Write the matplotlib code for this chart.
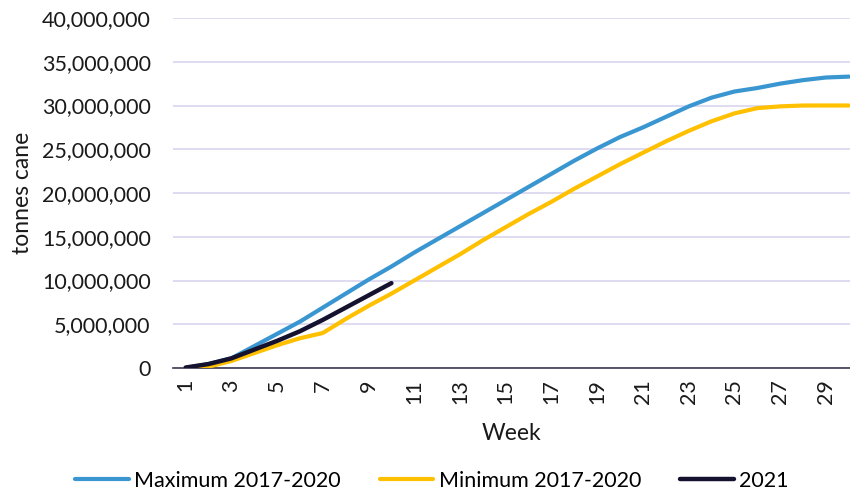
import matplotlib
matplotlib.use("Agg")
import matplotlib.pyplot as plt
from matplotlib.ticker import FuncFormatter

weeks = list(range(1, 31))
max_2017_2020 = [0.0, 0.45, 1.1, 2.5, 3.9, 5.3, 6.9, 8.5, 10.1, 11.6,
                 13.2, 14.7, 16.2, 17.7, 19.2, 20.7, 22.2, 23.7, 25.1, 26.4,
                 27.5, 28.7, 29.9, 30.9, 31.6, 32.0, 32.5, 32.9, 33.2, 33.3]
min_2017_2020 = [0.0, 0.15, 0.8, 1.7, 2.6, 3.4, 4.0, 5.6, 7.1, 8.5,
                 10.0, 11.5, 13.0, 14.6, 16.1, 17.6, 19.0, 20.5, 21.9, 23.3,
                 24.6, 25.9, 27.1, 28.2, 29.1, 29.7, 29.9, 30.0, 30.0, 30.0]
weeks_2021 = list(range(1, 11))
y_2021 = [0.05, 0.45, 1.1, 2.1, 3.1, 4.2, 5.5, 6.9, 8.3, 9.7]

scale = 1e6
plt.rcParams['font.family'] = ['Lato', 'DejaVu Sans']
FS = 15.5

fig = plt.figure(figsize=(8.5, 4.95), dpi=100)
ax = fig.add_axes([173/850, 1-368/495, 1-173/850, (368-18)/495])

ax.plot(weeks, [v*scale for v in max_2017_2020], color='#3a96d0', lw=3,
        solid_capstyle='round', label='Maximum 2017-2020', zorder=3)
ax.plot(weeks, [v*scale for v in min_2017_2020], color='#ffc000', lw=3,
        solid_capstyle='round', label='Minimum 2017-2020', zorder=3)
ax.plot(weeks_2021, [v*scale for v in y_2021], color='#14122e', lw=3.2,
        solid_capstyle='round', label='2021', zorder=4)

ax.set_xlim(0.45, 30.05)
ax.set_ylim(0, 40e6)
ax.set_yticks([i*5e6 for i in range(9)])
ax.yaxis.set_major_formatter(FuncFormatter(lambda v, p: f"{int(round(v)):,}"))
ax.set_xticks(list(range(1, 31, 2)))
ax.set_xticklabels([str(w) for w in range(1, 31, 2)], rotation=90)
ax.grid(axis='y', color='#d9d4ee', lw=1.2, zorder=0)
ax.set_axisbelow(True)
for s in ['top', 'right', 'left']:
    ax.spines[s].set_visible(False)
ax.spines['bottom'].set_color('#3c3b52')
ax.spines['bottom'].set_linewidth(1.2)
ax.tick_params(axis='both', length=0, labelsize=FS, colors='#1a1a1a')
ax.tick_params(axis='x', pad=8)
ax.tick_params(axis='y', pad=16)
ax.set_xlabel('Week', fontsize=FS+1, color='#1a1a1a', labelpad=14)
ax.set_ylabel('tonnes cane', fontsize=FS+1, color='#1a1a1a', labelpad=6)

fig.legend(loc='center', bbox_to_anchor=(0.508, 1-481/495), ncol=3, frameon=False,
           fontsize=FS, handlelength=2.5, columnspacing=1.8, handletextpad=0.25,
           borderaxespad=0)

fig.savefig('out.png', dpi=100)
